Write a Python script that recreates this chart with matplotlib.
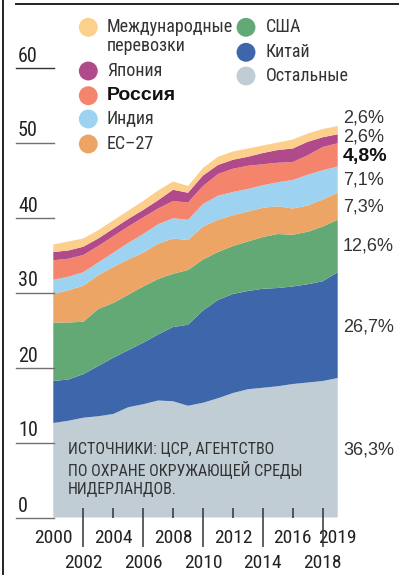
import matplotlib
matplotlib.use("Agg")
import matplotlib.pyplot as plt
from matplotlib import font_manager as fm

years = list(range(2000, 2020))
others = [12.6, 12.9, 13.3, 13.5, 13.8, 14.7, 15.1, 15.6, 15.5, 14.9, 15.3, 15.9, 16.6, 17.1, 17.3, 17.5, 17.8, 18.0, 18.2, 18.6]
china = [5.6, 5.5, 5.8, 6.7, 7.5, 7.6, 8.2, 8.8, 9.9, 10.8, 12.3, 13.1, 13.2, 13.1, 13.2, 13.1, 13.0, 13.1, 13.3, 14.1]
usa = [7.8, 7.6, 7.0, 7.6, 7.3, 7.4, 7.5, 7.4, 7.1, 7.3, 6.8, 6.4, 6.4, 6.6, 6.9, 7.2, 6.9, 7.0, 7.3, 7.0]
eu27 = [3.8, 4.3, 4.8, 4.5, 4.8, 4.7, 4.5, 4.7, 4.7, 4.0, 4.4, 4.3, 4.1, 4.0, 3.9, 3.7, 3.5, 3.5, 3.6, 3.6]
india = [1.9, 1.8, 1.8, 1.7, 1.9, 2.2, 2.5, 2.6, 2.7, 2.7, 3.0, 3.2, 3.1, 3.0, 3.0, 3.2, 3.8, 4.1, 3.9, 3.5]
russia = [2.6, 2.4, 2.3, 2.2, 2.2, 2.2, 2.2, 2.1, 2.3, 2.3, 2.4, 2.9, 3.1, 3.1, 2.8, 2.6, 2.4, 2.6, 3.1, 3.1]
japan = [1.1, 1.1, 1.1, 1.0, 1.0, 1.0, 1.0, 1.1, 1.5, 1.3, 1.4, 1.2, 1.2, 1.2, 1.5, 1.7, 1.8, 1.8, 1.3, 1.2]
intl = [1.0, 1.2, 1.1, 1.1, 1.1, 1.1, 1.2, 1.3, 1.1, 0.9, 1.0, 1.1, 1.1, 1.1, 1.0, 1.0, 1.2, 1.1, 1.1, 1.1]

series_names = ["Остальные", "Китай", "США", "ЕС–27", "Индия", "Россия", "Япония", "Международные\nперевозки"]
shares = ["36,3%", "26,7%", "12,6%", "7,3%", "7,1%", "4,8%", "2,6%", "2,6%"]
yticks = [0, 10, 20, 30, 40, 50, 60]
top_row_years = [2000, 2004, 2008, 2012, 2016, 2019]
bottom_row_years = [2002, 2006, 2010, 2014, 2018]
short_tick_years = [2004, 2008, 2012, 2016]
source = "ИСТОЧНИКИ: ЦСР, АГЕНТСТВО\nПО ОХРАНЕ ОКРУЖАЮЩЕЙ СРЕДЫ\nНИДЕРЛАНДОВ."

colors = ["#C0CDD5", "#3D66AB", "#63A976", "#EDA565", "#9DD2F0", "#F4856C", "#B14A8B", "#FCCF8C"]

available = {f.name for f in fm.fontManager.ttflist}
narrow_candidates = ["Roboto Condensed", "PT Sans Narrow", "Fira Sans Condensed",
                     "IBM Plex Sans Condensed", "Archivo Narrow", "Open Sans Condensed",
                     "Liberation Sans Narrow"]
narrow_font = next((n for n in narrow_candidates if n in available), "DejaVu Sans")
NARROW = [narrow_font, "DejaVu Sans"]
REG = ["Liberation Sans", "DejaVu Sans"]

W, H = 414, 575
fig = plt.figure(figsize=(W / 100, H / 100), dpi=100)
fig.patch.set_facecolor("white")

# main axes: 2000 at x=53.3px, 2019 at 337.7px; y=0 at 517.5px, 60 at 67.5px
ax = fig.add_axes([53.3 / W, (H - 517.5) / H, 284.4 / W, 450 / H])
ax.set_xlim(2000, 2019)
ax.set_ylim(0, 60)
ax.axis("off")

ax.stackplot(years, others, china, usa, eu27, india, russia, japan, intl,
             colors=colors, linewidth=0)

# x ticks
ax.vlines(bottom_row_years, -29 / 7.5, 10 / 7.5, color="#333333", lw=1.1, clip_on=False, zorder=5)
ax.vlines(short_tick_years, 0, 10 / 7.5, color="#333333", lw=1.1, clip_on=False, zorder=5)
for yr in top_row_years:
    ax.annotate(str(yr), xy=(yr, 0), xycoords="data", xytext=(0, -20.5),
                textcoords="offset pixels", ha="center", va="center",
                fontsize=14, family=NARROW, color="#222222", annotation_clip=False)
for yr in bottom_row_years:
    ax.annotate(str(yr), xy=(yr, 0), xycoords="data", xytext=(0, -45),
                textcoords="offset pixels", ha="center", va="center",
                fontsize=14, family=NARROW, color="#222222", annotation_clip=False)

# y ticks
ytr = ax.get_yaxis_transform()
x0 = (16 - 53.3) / 284.4
x1 = (54 - 53.3) / 284.4
for v in yticks:
    ax.plot([x0, x1], [v, v], transform=ytr, color="#333333" if v == 60 else "#707070",
            lw=1.0, clip_on=False)
    ax.annotate(str(v), xy=((18 - 53.3) / 284.4, v), xycoords=ytr, xytext=(0, 2),
                textcoords="offset pixels", ha="left", va="bottom",
                fontsize=14.5, family=NARROW, color="#222222", annotation_clip=False)

# overlay in pixel coordinates
ov = fig.add_axes([0, 0, 1, 1])
ov.set_xlim(0, W)
ov.set_ylim(H, 0)
ov.axis("off")
ov.patch.set_alpha(0)

ov.plot([16, 398], [4, 4], color="#222222", lw=1.4)
ov.plot([3.5, 3.5], [0, H], color="#222222", lw=1.4)

# legend
legend_pos = {
    7: (88.3, 27.3, 106.7, 27.3),
    6: (88.3, 71, 106.7, 71),
    5: (88.3, 95.7, 106.7, 95.7),
    4: (88.3, 119, 106.7, 119),
    3: (88.3, 144, 106.7, 144),
    2: (246, 27.3, 266, 27.3),
    1: (246, 52.3, 266, 52.3),
    0: (246, 76, 266, 76),
}
for i, (cx, cy, tx, ty) in legend_pos.items():
    ov.scatter([cx], [cy], s=185, color=colors[i], edgecolors="none", zorder=3)
    bold = i == 5
    for k, line in enumerate(series_names[i].split("\n")):
        ov.text(tx, ty + k * 18.7, line, ha="left", va="center",
                fontsize=14 if bold else 13, family=REG if bold else NARROW,
                fontweight="bold" if bold else "normal",
                color="#111111" if bold else "#333333")

# share labels
share_y = [450, 326.7, 245.7, 206.7, 180, 156, 136.7, 117.7]
for i, (lab, yy) in enumerate(zip(shares, share_y)):
    bold = i == 5
    ov.text(343, yy, lab, ha="left", va="center", fontsize=14 if bold else 13, family=REG,
            fontweight="bold" if bold else "normal",
            color="#111111" if bold else "#333333")

ov.text(68, 469.5, source, ha="left", va="center", fontsize=11.5, family=NARROW,
        color="#333333", linespacing=1.25)

fig.savefig("out.png", dpi=100, facecolor="white")
